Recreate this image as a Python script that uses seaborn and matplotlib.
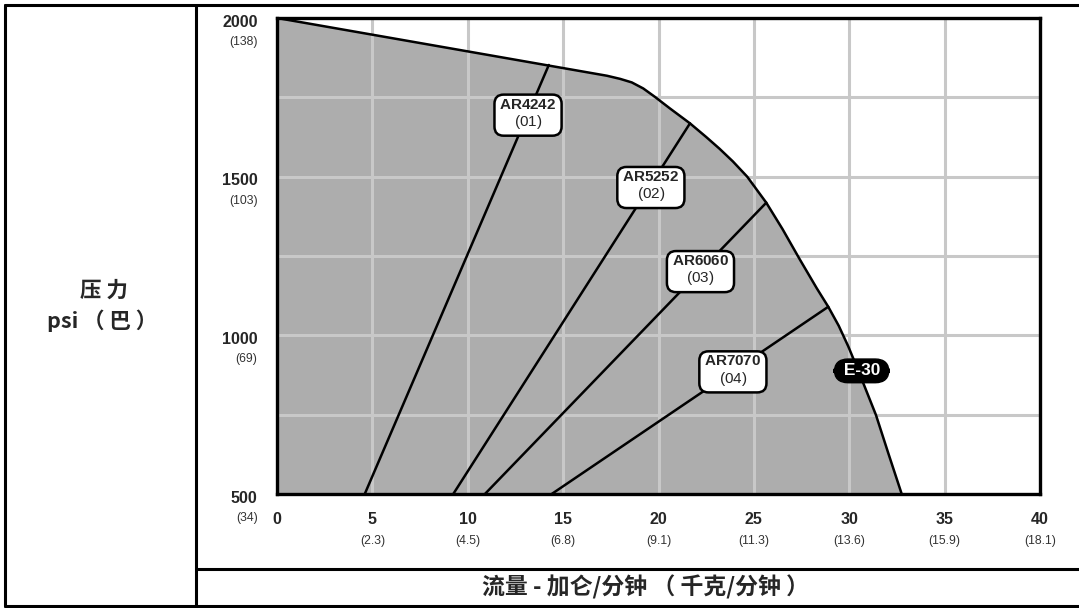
import numpy as np
import pandas as pd
import matplotlib
matplotlib.use("Agg")
import matplotlib.pyplot as plt
from matplotlib.lines import Line2D
import seaborn as sns

# E-30 pump envelope (gpm, psi)
curve_gpm = [0, 17.3, 18.0, 18.6, 19.2, 19.8, 20.6, 21.65, 22.5, 23.2, 23.9,
             24.65, 25.65, 26.5, 27.4, 28.3, 28.9, 29.45, 29.95, 30.5, 31.4,
             32.05, 32.75]
curve_psi = [2000, 1818, 1808, 1797, 1778, 1752, 1715, 1668, 1625, 1588, 1548,
             1500, 1418, 1335, 1240, 1148, 1090, 1030, 965, 885, 749,
             628, 500]

# mix chamber lines: start on 500 psi, end on the envelope
mixers = ["AR4242", "AR5252", "AR6060", "AR7070"]
mixer_codes = ["(01)", "(02)", "(03)", "(04)"]
mixer_gpm_start = [4.6, 9.24, 10.9, 14.4]
mixer_gpm_end = [14.25, 21.65, 25.65, 28.9]
mixer_psi_start = [500, 500, 500, 500]
mixer_psi_end = [1852, 1668, 1418, 1090]
# label box centres
label_gpm = [13.16, 19.6, 22.2, 23.9]
label_psi = [1697, 1469, 1204, 888]

x_ticks = [0, 5, 10, 15, 20, 25, 30, 35, 40]
x_kg = ["", "(2.3)", "(4.5)", "(6.8)", "(9.1)", "(11.3)", "(13.6)", "(15.9)", "(18.1)"]
y_ticks = [500, 1000, 1500, 2000]
y_bar = ["(34)", "(69)", "(103)", "(138)"]

sns.set_style("white")
plt.rcParams["font.family"] = ["Liberation Sans", "DejaVu Sans"]
plt.rcParams["mathtext.fontset"] = "custom"
plt.rcParams["mathtext.rm"] = "Liberation Sans"
plt.rcParams["mathtext.bf"] = "Liberation Sans:bold"
CJK = ["Noto Sans CJK SC", "DejaVu Sans"]

fig = plt.figure(figsize=(10.79, 6.08), dpi=100)
ax = fig.add_axes([277 / 1079, 1 - 494 / 608, (1040 - 277) / 1079, (494 - 18) / 608])

ax.fill_between(curve_gpm, 500, curve_psi, color="#adadad", lw=0, zorder=1)
ax.set_xlim(0, 40)
ax.set_ylim(500, 2000)
ax.set_xticks(x_ticks)
ax.set_yticks(np.arange(500, 2001, 250))
ax.grid(True, color="#c8c8c8", lw=2.2)
ax.set_axisbelow(False)
for line in ax.get_xgridlines() + ax.get_ygridlines():
    line.set_zorder(1.5)
ax.tick_params(length=0, labelbottom=False, labelleft=False)
for s in ax.spines.values():
    s.set_linewidth(2.4)
    s.set_color("black")
    s.set_zorder(5)

sns.lineplot(x=curve_gpm, y=curve_psi, sort=False, estimator=None,
             color="black", lw=1.8, ax=ax, zorder=3)

rows = []
for name, g0, g1, p0, p1 in zip(mixers, mixer_gpm_start, mixer_gpm_end,
                                mixer_psi_start, mixer_psi_end):
    rows.append({"mixer": name, "gpm": g0, "psi": p0})
    rows.append({"mixer": name, "gpm": g1, "psi": p1})
mix_df = pd.DataFrame(rows)
sns.lineplot(data=mix_df, x="gpm", y="psi", units="mixer", estimator=None,
             sort=False, color="black", lw=1.8, ax=ax, zorder=3)
ax.set_xlabel("")
ax.set_ylabel("")

# labelled boxes: bold name over plain code
for name, code, gx, py in zip(mixers, mixer_codes, label_gpm, label_psi):
    ax.text(gx, py, r"$\mathbf{%s}$" "\n" r"$\mathrm{%s}$" % (name, code),
            ha="center", va="center", multialignment="center", fontsize=11,
            linespacing=1.1, zorder=7,
            bbox=dict(boxstyle="round,pad=0.32,rounding_size=0.6", fc="white",
                      ec="black", lw=1.8))

ax.text(30.65, 888, " E-30 ", color="white", ha="center", va="center",
        fontsize=12.5, fontweight="bold", zorder=7,
        bbox=dict(boxstyle="round,pad=0.25,rounding_size=0.8", fc="black",
                  ec="black", lw=1))

# tick labels: bold value + (metric) underneath
for gx, kg in zip(x_ticks, x_kg):
    ax.annotate(str(gx), (gx, 0), xycoords=("data", "axes fraction"),
                xytext=(0, -18.7), textcoords="offset points", ha="center",
                va="center", fontsize=11.5, fontweight="bold")
    if kg:
        ax.annotate(kg, (gx, 0), xycoords=("data", "axes fraction"),
                    xytext=(0, -33.8), textcoords="offset points", ha="center",
                    va="center", fontsize=8.8, color="#333333")
for py, bar in zip(y_ticks, y_bar):
    ax.annotate(str(py), (0, py), xycoords=("axes fraction", "data"),
                xytext=(-14, -3), textcoords="offset points", ha="right",
                va="center", fontsize=11.5, fontweight="bold")
    ax.annotate(bar, (0, py), xycoords=("axes fraction", "data"),
                xytext=(-14, -17.3), textcoords="offset points", ha="right",
                va="center", fontsize=8.8, color="#333333")

# outer table frame
W, H = 1079, 608
frame = [((5, 5), (5, 606)), ((196, 5), (196, 606)), ((5, 5), (W, 5)),
         ((5, 606), (W, 606)), ((196, 569), (W, 569))]
for (x0, y0), (x1, y1) in frame:
    fig.add_artist(Line2D([x0 / W, x1 / W], [1 - y0 / H, 1 - y1 / H],
                          color="black", lw=2.2))

fig.text(104 / W, 1 - 290 / H, "压 力", ha="center", va="center",
         fontsize=15.5, fontweight="bold", family=CJK)
fig.text(102 / W, 1 - 321 / H, "psi （ 巴 ）", ha="center", va="center",
         fontsize=15.5, fontweight="bold", family=CJK)
fig.text(645 / W, 1 - 587 / H, "流量 - 加仑/分钟 （ 千克/分钟 ）", ha="center",
         va="center", fontsize=16.5, fontweight="bold", family=CJK)

fig.savefig("out.png", dpi=100)
